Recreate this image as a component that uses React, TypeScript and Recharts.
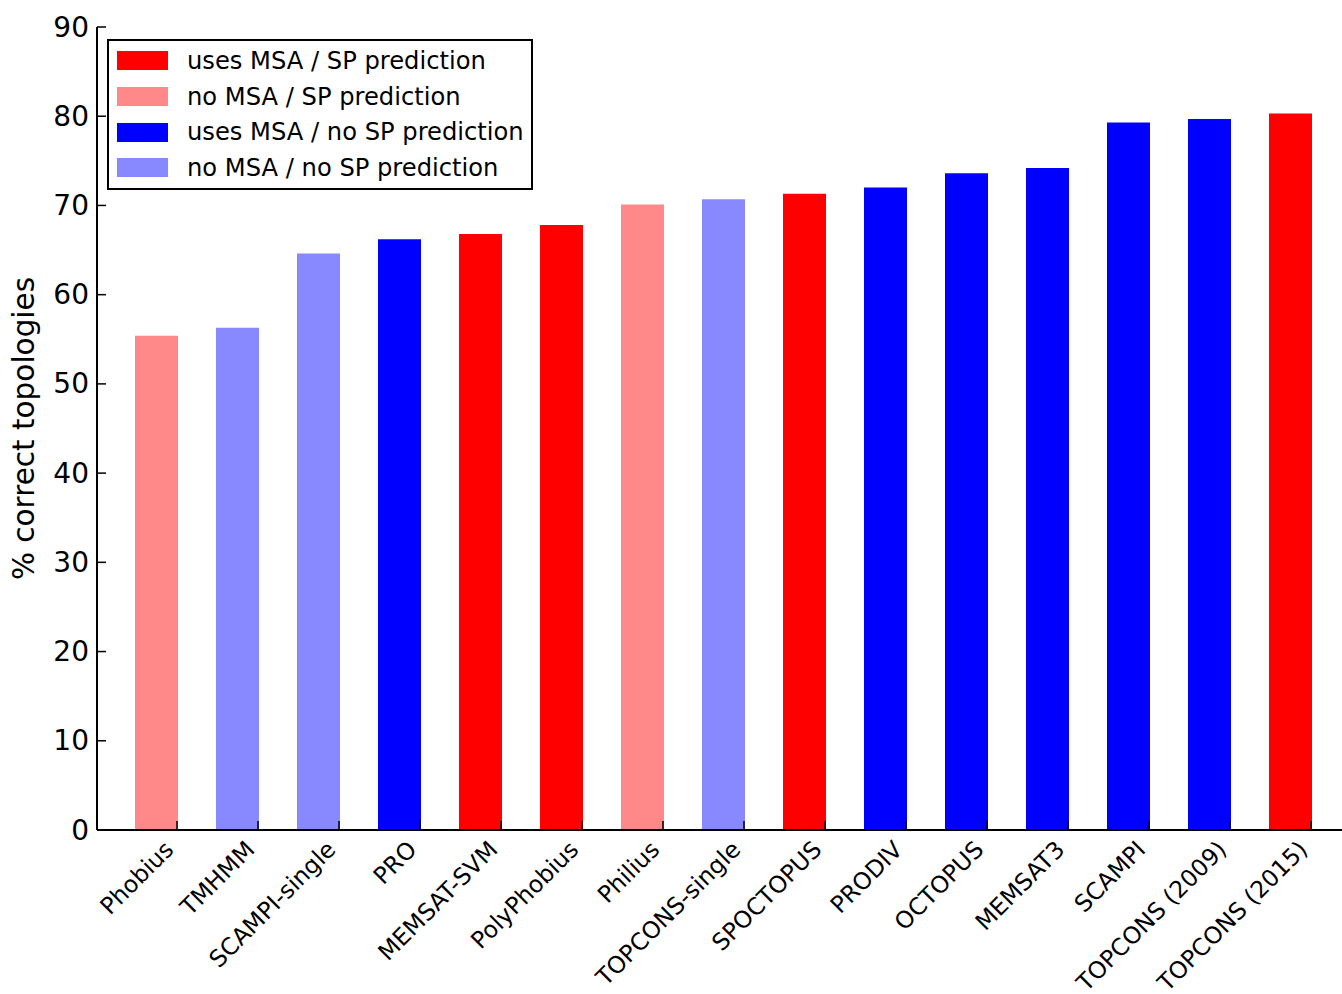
import React from 'react'
import { BarChart, Bar, Cell, XAxis, YAxis, Legend } from 'recharts'

// Methods in plotted order, % of correctly predicted topologies
const METHODS = [
  'Phobius',
  'TMHMM',
  'SCAMPI-single',
  'PRO',
  'MEMSAT-SVM',
  'PolyPhobius',
  'Philius',
  'TOPCONS-single',
  'SPOCTOPUS',
  'PRODIV',
  'OCTOPUS',
  'MEMSAT3',
  'SCAMPI',
  'TOPCONS (2009)',
  'TOPCONS (2015)',
]
const CORRECT = [55.4, 56.3, 64.6, 66.2, 66.8, 67.8, 70.1, 70.7, 71.3, 72.0, 73.6, 74.2, 79.3, 79.7, 80.3]
// index into GROUPS
const GROUP_OF = [1, 3, 3, 2, 0, 0, 1, 3, 0, 2, 2, 2, 2, 2, 0]
const GROUPS = [
  'uses MSA / SP prediction',
  'no MSA / SP prediction',
  'uses MSA / no SP prediction',
  'no MSA / no SP prediction',
]
const Y_TICKS = [0, 10, 20, 30, 40, 50, 60, 70, 80, 90]

const GROUP_COLORS = ['#ff0000', '#ff8888', '#0000ff', '#8888ff']
const FONT = '"DejaVu Sans", Verdana, sans-serif'
const BAR_SIZE = 43
const TICK_LEN = 9

const data = METHODS.map((name, i) => ({ name, value: CORRECT[i], group: GROUP_OF[i] }))

function LeftTick({ x, y, payload }: any) {
  return (
    <g>
      <line x1={x + 8} x2={x + 8 + TICK_LEN} y1={y} y2={y} stroke="#000" strokeWidth={1.5} />
      <text x={x} y={y} textAnchor="end" dominantBaseline="central" fontSize={28} fill="#000" fontFamily={FONT}>
        {payload.value}
      </text>
    </g>
  )
}

function RightTick({ x, y }: any) {
  return <line x1={x} x2={x - TICK_LEN} y1={y} y2={y} stroke="#000" strokeWidth={1.5} />
}

// ticks sit at the right edge of each bar, like the original plot
function BottomTick({ x, y, payload }: any) {
  const tx = x + BAR_SIZE / 2 - 1
  const lx = x + BAR_SIZE / 2 - 3
  const ly = y + 21
  return (
    <g>
      <line x1={tx} x2={tx} y1={y} y2={y - TICK_LEN} stroke="#000" strokeWidth={1.5} />
      <text
        x={lx}
        y={ly}
        textAnchor="end"
        transform={`rotate(-45 ${lx} ${ly})`}
        fontSize={23.5}
        fill="#000"
        fontFamily={FONT}
      >
        {payload.value}
      </text>
    </g>
  )
}

function TopTick({ x, y }: any) {
  const tx = x + BAR_SIZE / 2 - 1
  return <line x1={tx} x2={tx} y1={y} y2={y + TICK_LEN} stroke="#000" strokeWidth={1.5} />
}

function LegendBox() {
  return (
    <div
      style={{
        boxSizing: 'border-box',
        width: 426,
        height: 151,
        border: '2px solid #000',
        background: '#fff',
        padding: '2px 0 0 8px',
        fontFamily: FONT,
        fontSize: 24.2,
        color: '#000',
      }}
    >
      {GROUPS.map((g, i) => (
        <div key={g} style={{ display: 'flex', alignItems: 'center', height: 35.7 }}>
          <div style={{ width: 51, height: 19, background: GROUP_COLORS[i], marginRight: 19 }} />
          <span style={{ whiteSpace: 'nowrap' }}>{g}</span>
        </div>
      ))}
    </div>
  )
}

function YLabel({ viewBox }: any) {
  const cy = viewBox.y + viewBox.height / 2
  return (
    <text
      x={24}
      y={cy}
      transform={`rotate(-90 24 ${cy})`}
      textAnchor="middle"
      dominantBaseline="central"
      fontSize={29.5}
      fill="#000"
      fontFamily={FONT}
    >
      % correct topologies
    </text>
  )
}

export default function App() {
  return (
    <div
      style={{
        position: 'absolute',
        left: 0,
        top: 0,
        width: 1342,
        height: 994,
        overflow: 'hidden',
        background: '#fff',
      }}
    >
      <BarChart width={1360} height={994} data={data} margin={{ top: 27, right: 16, bottom: 0, left: 0 }}>
        <XAxis
          xAxisId="b"
          dataKey="name"
          height={164}
          interval={0}
          padding={{ left: 19, right: 13 }}
          axisLine={{ stroke: '#000', strokeWidth: 2 }}
          tickLine={false}
          tickSize={0}
          tickMargin={0}
          tick={<BottomTick />}
        />
        <XAxis
          xAxisId="t"
          orientation="top"
          dataKey="name"
          height={0}
          interval={0}
          padding={{ left: 19, right: 13 }}
          axisLine={{ stroke: '#000', strokeWidth: 2 }}
          tickLine={false}
          tickSize={0}
          tickMargin={0}
          tick={<TopTick />}
        />
        <YAxis
          yAxisId="l"
          width={97}
          domain={[0, 90]}
          ticks={Y_TICKS}
          interval={0}
          axisLine={{ stroke: '#000', strokeWidth: 2 }}
          tickLine={false}
          tickSize={0}
          tickMargin={8}
          tick={<LeftTick />}
          label={<YLabel />}
        />
        <YAxis
          yAxisId="r"
          orientation="right"
          width={0}
          domain={[0, 90]}
          ticks={Y_TICKS}
          interval={0}
          axisLine={{ stroke: '#000', strokeWidth: 2 }}
          tickLine={false}
          tickSize={0}
          tickMargin={0}
          tick={<RightTick />}
        />
        <Legend
          layout="horizontal"
          verticalAlign="middle"
          align="center"
          content={<LegendBox />}
          wrapperStyle={{ left: 107, top: 39, width: 426, height: 151 }}
        />
        <Bar xAxisId="b" yAxisId="l" dataKey="value" barSize={BAR_SIZE} isAnimationActive={false}>
          {data.map((d, i) => (
            <Cell key={`bar-${i}`} fill={GROUP_COLORS[d.group]} />
          ))}
        </Bar>
      </BarChart>
    </div>
  )
}
